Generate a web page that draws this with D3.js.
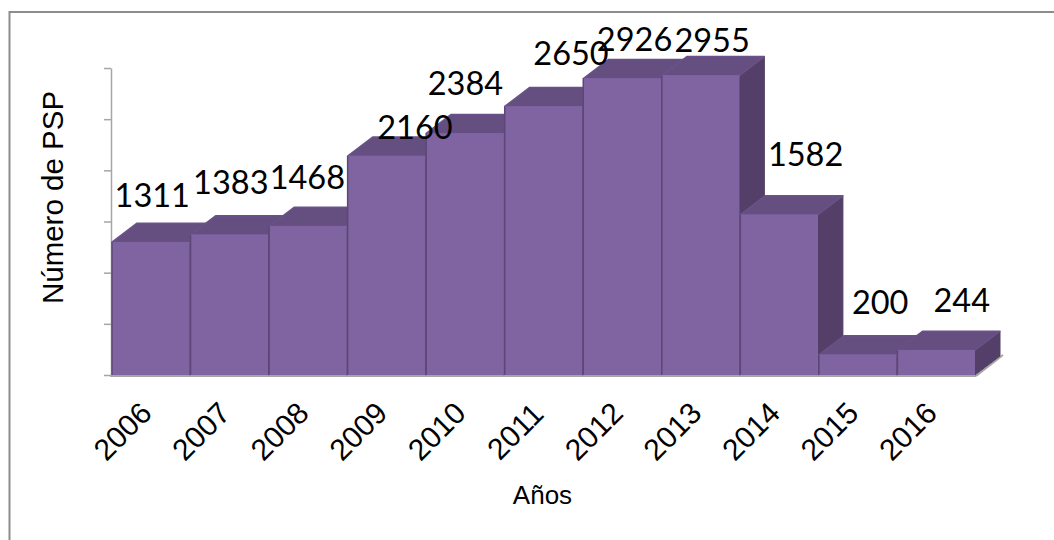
<!DOCTYPE html>
<html>
<head>
<meta charset="utf-8">
<script src="https://cdn.jsdelivr.net/npm/d3@7"></script>
<style>
  html, body { margin: 0; padding: 0; background: #fff; }
  svg { display: block; }
</style>
</head>
<body>
<div id="chart"></div>
<script>
// Chart data
const years = ["2006", "2007", "2008", "2009", "2010", "2011", "2012", "2013", "2014", "2015", "2016"];
const pspCounts = [1311, 1383, 1468, 2160, 2384, 2650, 2926, 2955, 1582, 200, 244];
const yTicks = [0, 500, 1000, 1500, 2000, 2500, 3000];

// Declare constants
const canvas = { w: 1054, h: 540 };
const plot = { left: 112, right: 976, top: 68, barTop: 71, bottom: 375 };
const depth = { x: 25, y: 19 };
const colors = { front: "#8064a2", top: "#654e80", side: "#533f68", edge: "#6a5289", rim: "#7f63a3", sep: "#5d4778", axis: "#a6a6a6", border: "#8c8c8c" };

// Labels were placed by hand in the original, so nudge them from the bar top
const labelDx = [1, 1, -1, 28, 0, 27, 12, 11, 26, 22, 25];
const labelDy = [-35, -40.5, -37.5, -17, -38, -41, -27, -24, -49, -41, -38];

const x = d3.scaleBand().domain(years).range([plot.left, plot.right]).padding(0);
const y = d3.scaleLinear().domain([0, 3000]).range([plot.bottom, plot.barTop]);
// ticks sit on the back plane, slightly taller than the bar fronts
const yBack = d3.scaleLinear().domain([0, 3000]).range([plot.bottom, plot.top]);

const svg = d3.select("#chart").append("svg")
    .attr("width", canvas.w)
    .attr("height", canvas.h)
    .attr("viewBox", `0 0 ${canvas.w} ${canvas.h}`);

// Outer border, only top and left show in the crop
svg.append("path")
    .attr("d", `M9.5,${canvas.h}V12H${canvas.w}`)
    .attr("fill", "none")
    .attr("stroke", colors.border)
    .attr("stroke-width", 2);

// Floor edge
svg.append("path")
    .attr("d", `M${plot.right},${plot.bottom + 1}L${plot.right + depth.x + 2},${plot.bottom - 20}`)
    .attr("stroke", colors.axis)
    .attr("stroke-width", 2)
    .attr("fill", "none");

// Axes
const yAxis = d3.axisLeft(yBack).tickValues(yTicks).tickFormat("").tickSize(7).tickSizeOuter(0);
const yG = svg.append("g")
    .attr("transform", `translate(${plot.left - 1},0)`)
    .call(yAxis);
yG.selectAll("path, line").attr("stroke", colors.axis).attr("stroke-width", 1.5);

svg.append("line")
    .attr("x1", plot.left - 2).attr("x2", plot.right)
    .attr("y1", plot.bottom + 1).attr("y2", plot.bottom + 1)
    .attr("stroke", colors.axis)
    .attr("stroke-width", 2);

// Bars, drawn left to right so each front covers the previous side face
const data = years.map((year, i) => ({ year, value: pspCounts[i], i }));
const bars = svg.selectAll("g.bar")
    .data(data)
    .enter()
    .append("g")
    .classed("bar", true);

bars.append("path")
    .attr("fill", colors.side)
    .attr("stroke", colors.side)
    .attr("stroke-width", 1)
    .attr("stroke-linejoin", "round")
    .attr("d", d => {
        const x1 = x(d.year) + x.bandwidth() - 1;
        return `M${x1},${y(d.value)}L${x1 + depth.x},${y(d.value) - depth.y}L${x1 + depth.x},${plot.bottom - depth.y}L${x1},${plot.bottom}Z`;
    });

bars.append("path")
    .attr("fill", colors.top)
    .attr("stroke", colors.edge)
    .attr("stroke-width", 1.5)
    .attr("stroke-linejoin", "round")
    .attr("d", d => {
        const x0 = x(d.year);
        const x1 = x0 + x.bandwidth() - 1;
        return `M${x0},${y(d.value)}L${x0 + depth.x},${y(d.value) - depth.y}L${x1 + depth.x},${y(d.value) - depth.y}L${x1},${y(d.value)}Z`;
    });

bars.append("rect")
    .attr("x", d => x(d.year))
    .attr("y", d => y(d.value))
    .attr("width", x.bandwidth() - 1)
    .attr("height", d => plot.bottom - y(d.value))
    .attr("fill", colors.front);

// Lighter rim along the top, dark seam on the left of each front
bars.append("line")
    .attr("x1", d => x(d.year))
    .attr("x2", d => x(d.year) + x.bandwidth() - 1)
    .attr("y1", d => y(d.value) + 1)
    .attr("y2", d => y(d.value) + 1)
    .attr("stroke", colors.rim)
    .attr("stroke-width", 2.5);

bars.append("line")
    .attr("x1", d => x(d.year))
    .attr("x2", d => x(d.year))
    .attr("y1", d => y(d.value))
    .attr("y2", plot.bottom)
    .attr("stroke", colors.sep)
    .attr("stroke-width", 1.5);

// Data labels
svg.selectAll("text.value")
    .data(data)
    .enter()
    .append("text")
    .classed("value", true)
    .attr("x", d => x(d.year) + x.bandwidth() / 2 + labelDx[d.i])
    .attr("y", d => y(d.value) + labelDy[d.i])
    .attr("text-anchor", "middle")
    .attr("font-family", "Lato, 'Open Sans', sans-serif")
    .attr("font-size", 32.5)
    .attr("fill", "#000")
    .text(d => d.value);

// Year labels
svg.selectAll("text.year")
    .data(years)
    .enter()
    .append("text")
    .classed("year", true)
    .attr("transform", d => `translate(${x(d) + x.bandwidth() / 2 - 27},${plot.bottom + 58}) rotate(-45)`)
    .attr("text-anchor", "middle")
    .attr("dominant-baseline", "middle")
    .attr("font-family", "'Liberation Sans', Arial, sans-serif")
    .attr("font-size", 30)
    .attr("fill", "#000")
    .text(d => d);

// Axis titles
svg.append("text")
    .attr("transform", "translate(63,197.5) rotate(-90)")
    .attr("text-anchor", "middle")
    .attr("font-family", "'Liberation Sans', Arial, sans-serif")
    .attr("font-size", 29.5)
    .text("Número de PSP");

svg.append("text")
    .attr("x", 542.5).attr("y", 504)
    .attr("text-anchor", "middle")
    .attr("font-family", "'Liberation Sans', Arial, sans-serif")
    .attr("font-size", 26)
    .text("Años");
</script>
</body>
</html>
